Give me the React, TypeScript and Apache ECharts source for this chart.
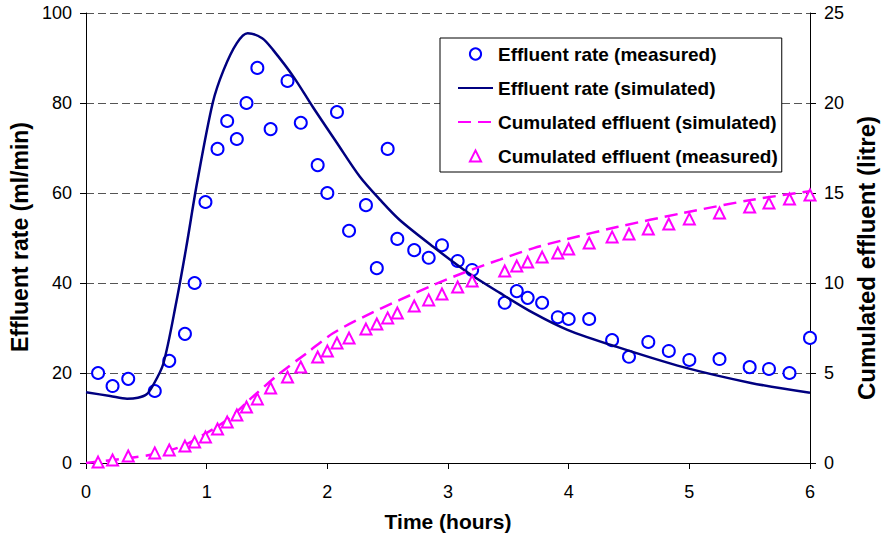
import React, { useEffect, useRef } from 'react';
import * as echarts from 'echarts';

// Measured sampling times (hours)
const measuredTime = [
  0.1, 0.22, 0.35, 0.57, 0.69, 0.82, 0.9, 0.99, 1.09, 1.17,
  1.25, 1.33, 1.42, 1.53, 1.67, 1.78, 1.92, 2.0, 2.08, 2.18,
  2.32, 2.41, 2.5, 2.58, 2.72, 2.84, 2.95, 3.08, 3.2, 3.47,
  3.57, 3.66, 3.78, 3.91, 4.0, 4.17, 4.36, 4.5, 4.66, 4.83,
  5.0, 5.25, 5.5, 5.66, 5.83, 6.0,
];
// Effluent rate (measured), ml/min
const measuredRate = [
  20, 17.1, 18.7, 16, 22.7, 28.7, 40, 58, 69.8, 76,
  72, 80, 87.8, 74.2, 84.9, 75.6, 66.2, 60, 78, 51.6,
  57.3, 43.3, 69.8, 49.8, 47.3, 45.6, 48.4, 44.9, 42.9, 35.6,
  38.2, 36.7, 35.6, 32.4, 32, 32, 27.3, 23.6, 26.9, 24.9,
  22.9, 23.1, 21.3, 20.9, 20, 27.8,
];
// Cumulated effluent (measured), litre
const measuredCum = [
  0.05, 0.17, 0.39, 0.56, 0.72, 0.94, 1.17, 1.44, 1.89, 2.28,
  2.67, 3.11, 3.56, 4.17, 4.78, 5.33, 5.89, 6.22, 6.67, 6.94,
  7.44, 7.72, 8.06, 8.33, 8.72, 9.06, 9.39, 9.78, 10.11, 10.67,
  10.94, 11.17, 11.44, 11.67, 11.89, 12.22, 12.56, 12.72, 13.0, 13.28,
  13.56, 13.89, 14.22, 14.44, 14.67, 14.89,
];
// Effluent rate (simulated)
const simRateTime = [
  0, 0.2, 0.34, 0.43, 0.5, 0.55, 0.64, 0.75, 0.83, 0.92,
  1.05, 1.14, 1.25, 1.34, 1.46, 1.55, 1.72, 1.88, 2.08, 2.27,
  2.44, 2.6, 2.88, 3.16, 3.43, 3.71, 3.99, 4.4, 4.95, 5.51, 6.0,
];
const simRate = [
  15.7, 14.9, 14.3, 14.5, 15.2, 17, 22, 36, 47.8, 62.2,
  80, 87.3, 93.3, 95.5, 94.4, 91.8, 85.8, 79.1, 71.1, 63.6,
  58.4, 54, 48, 42.4, 37.8, 33.3, 29.6, 25.8, 21.3, 17.8, 15.6,
];
// Cumulated effluent (simulated)
const simCumTime = [
  0, 0.36, 0.57, 0.78, 1.0, 1.19, 1.38, 1.61, 1.83, 2.05,
  2.33, 2.6, 2.88, 3.16, 3.43, 3.71, 3.99, 4.4, 4.95, 5.51, 6.0,
];
const simCum = [
  0, 0.28, 0.5, 0.89, 1.67, 2.5, 3.67, 5.0, 6.11, 7.22,
  8.22, 9.06, 9.89, 10.65, 11.3, 11.94, 12.44, 13.11, 13.89, 14.61, 15.1,
];

const seriesNames = [
  'Effluent rate (measured)',
  'Effluent rate (simulated)',
  'Cumulated effluent (simulated)',
  'Cumulated effluent (measured)',
];

const FONT = "'Liberation Sans', Arial, Helvetica, sans-serif";

const zip = (xs: number[], ys: number[]) => xs.map((x, i) => [x, ys[i]]);

export default function App() {
  const ref = useRef<HTMLDivElement>(null);
  useEffect(() => {
    const chart = echarts.init(ref.current!, null, { renderer: 'svg' });
    const axisCommon = {
      axisLine: { show: true, onZero: false, lineStyle: { color: '#000', width: 1 } },
      axisTick: { show: true, length: 6, lineStyle: { color: '#000', width: 1 } },
      axisLabel: { color: '#000', fontSize: 18, fontFamily: FONT },
      nameTextStyle: { color: '#000', fontSize: 20, fontWeight: 'bold', fontFamily: FONT },
    };
    chart.setOption({
      animation: false,
      backgroundColor: '#fff',
      textStyle: { fontFamily: FONT },
      grid: { left: 86, right: 71, top: 13, bottom: 74, outerBoundsMode: 'none' },
      legend: {
        orient: 'vertical',
        left: 440,
        top: 38,
        itemWidth: 35,
        itemHeight: 14,
        itemGap: 12,
        padding: [5, 4, 5, 17],
        borderColor: '#000',
        borderWidth: 1,
        backgroundColor: '#fff',
        selectedMode: false,
        textStyle: { color: '#000', fontSize: 19, fontWeight: 'bold', fontFamily: FONT, lineHeight: 22 },
        data: [
          { name: seriesNames[0] },
          { name: seriesNames[1], itemStyle: { opacity: 0 } },
          { name: seriesNames[2], itemStyle: { opacity: 0 } },
          { name: seriesNames[3] },
        ],
      },
      xAxis: {
        type: 'value',
        min: 0,
        max: 6,
        interval: 1,
        ...axisCommon,
        axisLabel: { ...axisCommon.axisLabel, margin: 20 },
        splitLine: { show: false },
        name: 'Time (hours)',
        nameLocation: 'middle',
        nameGap: 48,
        nameTextStyle: { ...axisCommon.nameTextStyle, fontSize: 21 },
      },
      yAxis: [
        {
          type: 'value',
          min: 0,
          max: 100,
          interval: 20,
          position: 'left',
          ...axisCommon,
          axisLabel: { ...axisCommon.axisLabel, margin: 14 },
          splitLine: { show: true, lineStyle: { color: '#555', width: 1, type: [8, 4] } },
          name: 'Effluent rate (ml/min)',
          nameLocation: 'middle',
          nameGap: 51,
          nameTextStyle: { ...axisCommon.nameTextStyle, fontSize: 23, padding: [0, 0, 0, 2] },
        },
        {
          type: 'value',
          min: 0,
          max: 25,
          interval: 5,
          position: 'right',
          ...axisCommon,
          axisLabel: { ...axisCommon.axisLabel, margin: 14 },
          splitLine: { show: false },
          name: 'Cumulated effluent (litre)',
          nameLocation: 'middle',
          nameGap: 43,
          nameTextStyle: { ...axisCommon.nameTextStyle, fontSize: 24, padding: [0, 40, 0, 0] },
        },
      ],
      series: [
        {
          name: seriesNames[0],
          type: 'line',
          yAxisIndex: 0,
          data: zip(measuredTime, measuredRate),
          symbol: 'emptyCircle',
          symbolSize: 12,
          showAllSymbol: true,
          itemStyle: { color: '#0000ff', borderWidth: 1.3 },
          lineStyle: { width: 0, opacity: 0 },
          z: 3,
        },
        {
          name: seriesNames[1],
          type: 'line',
          yAxisIndex: 0,
          data: zip(simRateTime, simRate),
          symbol: 'none',
          smooth: 0.3,
          itemStyle: { color: '#000080' },
          lineStyle: { color: '#000080', width: 2.5 },
          z: 4,
        },
        {
          name: seriesNames[2],
          type: 'line',
          yAxisIndex: 1,
          data: zip(simCumTime, simCum),
          symbol: 'none',
          smooth: 0.3,
          itemStyle: { color: '#ff00ff' },
          lineStyle: { color: '#ff00ff', width: 2.5, type: [13, 7] },
          z: 5,
        },
        {
          name: seriesNames[3],
          type: 'line',
          yAxisIndex: 1,
          data: zip(measuredTime, measuredCum),
          symbol: 'emptyTriangle',
          symbolSize: 11,
          showAllSymbol: true,
          itemStyle: { color: '#ff00ff', borderWidth: 1.2 },
          lineStyle: { width: 0, opacity: 0 },
          z: 6,
        },
      ],
    });
    return () => chart.dispose();
  }, []);
  return (
    <div
      ref={ref}
      style={{ position: 'absolute', left: 0, top: 0, width: 881, height: 537 }}
    />
  );
}
